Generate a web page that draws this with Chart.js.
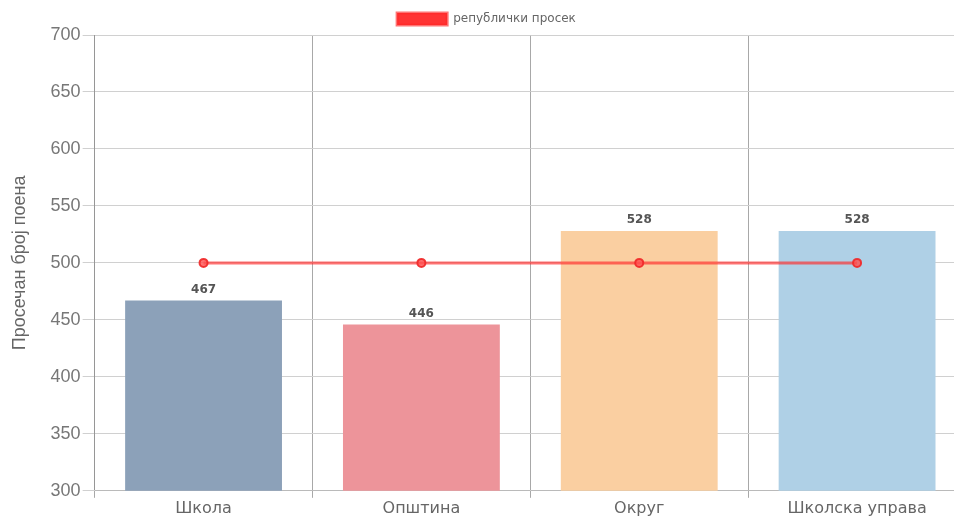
<!DOCTYPE html>
<html lang="sr">
<head>
<meta charset="UTF-8">
<title>Просечан број поена</title>
<style>
  html, body { margin: 0; padding: 0; background: #fff; overflow: hidden; }
  #wrap { width: 980px; height: 519px; }
</style>
</head>
<body>
<div id="wrap"><canvas id="myChart"></canvas></div>
<script src="https://cdn.jsdelivr.net/npm/chart.js"></script>
<script>
  const kategorije = ['Школа', 'Општина', 'Округ', 'Школска управа'];
  const poeni = [467, 446, 528, 528];
  const republickiProsek = [500, 500, 500, 500];
  const boje = ['rgb(140,161,185)', 'rgb(237,148,154)', 'rgb(250,207,161)', 'rgb(175,208,230)'];
  const yTicks = [300, 350, 400, 450, 500, 550, 600, 650, 700];

  // brojevi iznad stubica
  const oznake = {
    id: 'oznake',
    afterDatasetsDraw(chart) {
      const ctx = chart.ctx;
      const meta = chart.getDatasetMeta(1);
      ctx.save();
      ctx.font = 'bold 12px "DejaVu Sans", sans-serif';
      ctx.fillStyle = '#555';
      ctx.textAlign = 'center';
      ctx.textBaseline = 'bottom';
      meta.data.forEach((bar, i) => {
        ctx.fillText(poeni[i], bar.x, bar.y - 5);
      });
      ctx.restore();
    }
  };

  new Chart(document.getElementById('myChart'), {
    data: {
      labels: kategorije,
      datasets: [{
        type: 'line',
        label: 'републички просек',
        data: republickiProsek,
        borderColor: 'rgba(255,40,40,0.65)',
        backgroundColor: 'rgb(255,51,51)',
        borderWidth: 3,
        pointRadius: 4,
        pointBorderWidth: 2,
        pointBackgroundColor: 'rgba(255,80,80,0.8)',
        pointBorderColor: 'rgba(240,40,40,0.9)',
        fill: false,
        order: 0
      }, {
        type: 'bar',
        label: 'поени',
        data: poeni,
        backgroundColor: boje,
        borderWidth: 0,
        order: 1
      }]
    },
    options: {
      responsive: true,
      maintainAspectRatio: false,
      animation: false,
      layout: { padding: { left: 7, right: 14, top: 3, bottom: 0 } },
      plugins: {
        legend: {
          labels: {
            filter: (item) => item.datasetIndex === 0,
            boxWidth: 50,
            boxHeight: 12,
            color: '#666',
            font: { size: 12, family: '"DejaVu Sans", sans-serif' }
          }
        },
        tooltip: { enabled: false }
      },
      scales: {
        x: {
          grid: { color: '#a8a8a8', offset: true, tickLength: 7 },
          ticks: {
            color: '#666',
            padding: 1,
            font: { size: 16, family: '"DejaVu Sans", sans-serif' }
          }
        },
        y: {
          min: 300,
          max: 700,
          afterBuildTicks: (axis) => { axis.ticks = yTicks.map(v => ({ value: v })); },
          grid: { color: '#d0d0d0', tickLength: 12 },
          ticks: {
            color: '#777',
            padding: 2,
            font: { size: 18, family: 'Arial, "Liberation Sans", sans-serif' }
          },
          title: {
            display: true,
            text: 'Просечан број поена',
            color: '#666',
            padding: { top: 2, bottom: 18 },
            font: { size: 18, family: 'Arial, "Liberation Sans", sans-serif' }
          }
        }
      }
    },
    plugins: [oznake]
  });
</script>
</body>
</html>
